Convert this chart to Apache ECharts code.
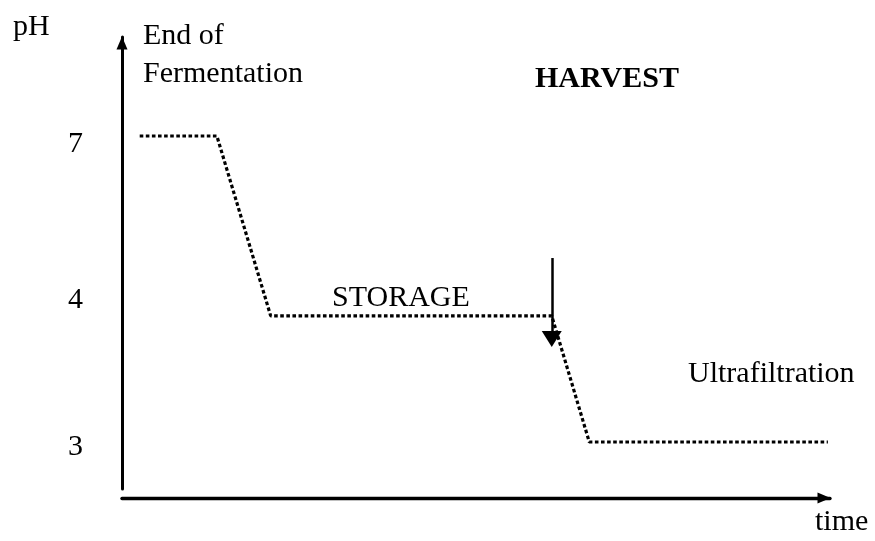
<!DOCTYPE html>
<html>
<head>
<meta charset="utf-8">
<script src="https://cdn.jsdelivr.net/npm/echarts@6/dist/echarts.min.js"></script>
<style>
html,body{margin:0;padding:0;background:#fff;}
#chart{width:875px;height:541px;}
</style>
</head>
<body>
<div id="chart"></div>
<script>
// schematic time (0-100) and schematic pH level (0-100 display units)
const timeVals  = [2.5, 13.4, 21.0, 60.7, 66.0, 99.7];
const levelVals = [78.1, 78.1, 38.3, 38.3, 10.4, 10.4];
const yTickPos    = [9.3, 41.8, 76.3];
const yTickLabels = ['3', '4', '7'];
const harvestX = 60.7;
const harvestArrowY = [51.1, 33.2];

const FONT = "'Liberation Serif', 'Times New Roman', serif";
const chart = echarts.init(document.getElementById('chart'), null, {renderer: 'canvas'});

function txt(text, x, y, bold) {
  return {
    type: 'text', x: x, y: y, silent: true,
    style: {text: text, fill: '#000', font: (bold ? 'bold ' : '') + '30px ' + FONT,
            textAlign: 'left', textVerticalAlign: 'middle', verticalAlign: 'middle'}
  };
}

chart.setOption({
  backgroundColor: '#fff',
  animation: false,
  grid: {left: 122, right: 45, top: 37, bottom: 52},
  xAxis: {
    type: 'value', min: 0, max: 100, offset: 9,
    splitLine: {show: false}, axisTick: {show: false}, axisLabel: {show: false},
    axisLine: {show: true, onZero: false, lineStyle: {color: '#000', width: 3.4},
      symbol: ['none', 'triangle'], symbolSize: [11, 13], symbolOffset: [0, -6]}
  },
  yAxis: {
    type: 'value', min: 0, max: 100,
    splitLine: {show: false}, axisTick: {show: false},
    axisLine: {show: true, onZero: false, lineStyle: {color: '#000', width: 3},
      symbol: ['none', 'triangle'], symbolSize: [11, 13], symbolOffset: [0, -6]},
    axisLabel: {
      show: true, customValues: yTickPos, margin: 39,
      fontSize: 30, fontFamily: FONT, color: '#000',
      formatter: function (v) { const i = yTickPos.indexOf(v); return i >= 0 ? yTickLabels[i] : ''; }
    }
  },
  series: [{
    type: 'line',
    data: timeVals.map((t, i) => [t, levelVals[i]]),
    showSymbol: false, symbol: 'none',
    lineStyle: {color: '#000', width: 3.2, type: [3.6, 2.5], cap: 'butt'},
    silent: true,
    markLine: {
      silent: true, animation: false,
      symbol: ['none', 'triangle'], symbolSize: [20, 16],
      label: {show: false},
      lineStyle: {color: '#000', width: 2.5, type: 'solid'},
      data: [[{coord: [harvestX, harvestArrowY[0]]}, {coord: [harvestX, harvestArrowY[1]]}]]
    }
  }],
  graphic: [
    txt('pH', 13, 27),
    txt('End of', 143, 36),
    txt('Fermentation', 143, 74),
    txt('HARVEST', 535, 79, true),
    txt('STORAGE', 332, 298),
    txt('Ultrafiltration', 688, 374),
    txt('time', 815, 522)
  ]
});
</script>
</body>
</html>
